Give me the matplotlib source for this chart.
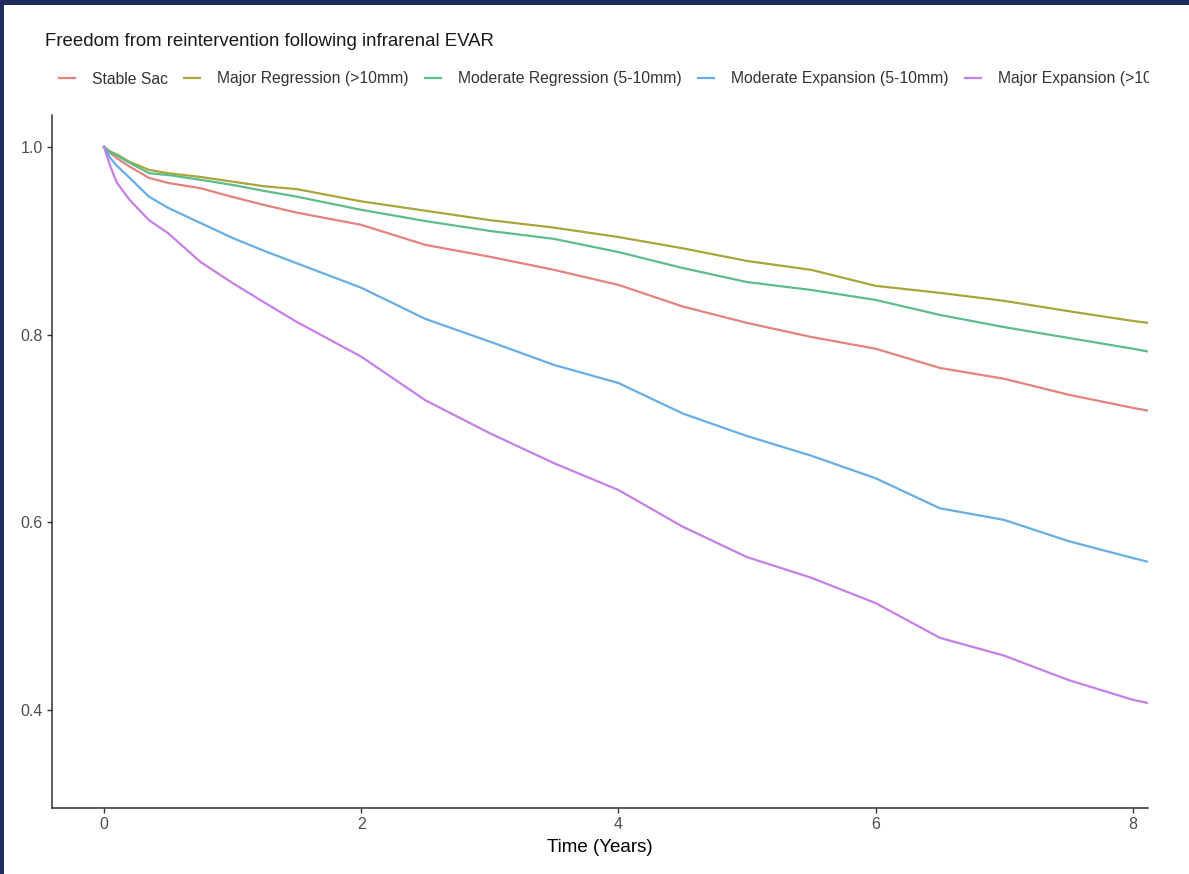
import matplotlib
matplotlib.use("Agg")
import matplotlib.pyplot as plt
from matplotlib.patches import Rectangle

plt.rcParams["font.family"] = ["Liberation Sans", "DejaVu Sans"]

# Kaplan-Meier estimates
TIME = [0, 0.05, 0.1, 0.2, 0.35, 0.5, 0.75, 1.0, 1.25, 1.5, 2.0, 2.5, 3.0, 3.5,
        4.0, 4.5, 5.0, 5.5, 6.0, 6.5, 7.0, 7.5, 8.0, 8.12]

STABLE_SAC = [1.0, 0.9935, 0.988, 0.979, 0.967, 0.9616, 0.956, 0.9467, 0.938, 0.930,
              0.917, 0.8956, 0.883, 0.869, 0.853, 0.830, 0.8125, 0.7975, 0.785,
              0.7645, 0.753, 0.736, 0.722, 0.719]
MAJOR_REGRESSION = [1.0, 0.995, 0.992, 0.984, 0.9755, 0.972, 0.968, 0.963, 0.958, 0.955,
                    0.942, 0.932, 0.922, 0.914, 0.904, 0.892, 0.8785, 0.869, 0.852,
                    0.8445, 0.836, 0.825, 0.8146, 0.8125]
MODERATE_REGRESSION = [1.0, 0.994, 0.991, 0.983, 0.972, 0.970, 0.965, 0.9595, 0.953, 0.947,
                       0.933, 0.921, 0.9105, 0.902, 0.888, 0.871, 0.856, 0.8476, 0.837,
                       0.821, 0.808, 0.7965, 0.785, 0.782]
MODERATE_EXPANSION = [1.0, 0.988, 0.98, 0.967, 0.947, 0.935, 0.919, 0.903, 0.889, 0.876,
                      0.850, 0.8167, 0.7926, 0.7677, 0.7485, 0.716, 0.692, 0.671, 0.647,
                      0.615, 0.6026, 0.58, 0.562, 0.558]
MAJOR_EXPANSION = [1.0, 0.979, 0.962, 0.9435, 0.922, 0.908, 0.8775, 0.855, 0.834, 0.8135,
                   0.7766, 0.730, 0.695, 0.663, 0.6345, 0.5954, 0.563, 0.541, 0.514,
                   0.477, 0.458, 0.432, 0.411, 0.4075]

LABELS = ["Stable Sac", "Major Regression (>10mm)", "Moderate Regression (5-10mm)",
          "Moderate Expansion (5-10mm)", "Major Expansion (>10mm)"]
SERIES = [STABLE_SAC, MAJOR_REGRESSION, MODERATE_REGRESSION, MODERATE_EXPANSION, MAJOR_EXPANSION]
COLORS = ["#E4837C", "#A8A63A", "#5DBB8C", "#66AEE4", "#C77FE8"]

X_TICKS = [0, 2, 4, 6, 8]
Y_TICKS = [0.4, 0.6, 0.8, 1.0]

W, H = 1189, 874
fig = plt.figure(figsize=(W / 100, H / 100), dpi=100)
ax = fig.add_axes([52 / W, 1 - 808 / H, (1148 - 52) / W, (808 - 115) / H])

for vals, lab, col in zip(SERIES, LABELS, COLORS):
    ax.plot(TIME, vals, color=col, lw=1.6, label=lab)

ax.set_xlim(-0.404, 8.118)
ax.set_ylim(0.2957, 1.034)
ax.set_xticks(X_TICKS)
ax.set_xticklabels([str(t) for t in X_TICKS])
ax.set_yticks(Y_TICKS)
ax.set_yticklabels([f"{v:.1f}" for v in Y_TICKS])
for side in ["top", "right"]:
    ax.spines[side].set_visible(False)
for side in ["left", "bottom"]:
    ax.spines[side].set_color("#333333")
    ax.spines[side].set_linewidth(1.1)
ax.tick_params(length=3.5, width=1.0, color="#333333", labelcolor="#4D4D4D",
               labelsize=11.5, pad=3)
ax.set_xlabel("Time (Years)", fontsize=13.5, color="black", labelpad=5)

fig.text(45 / W, 1 - 42 / H, "Freedom from reintervention following infrarenal EVAR",
         fontsize=13.4, color="#1a1a1a", va="center", ha="left")

leg = fig.legend(*ax.get_legend_handles_labels(), loc="center left", ncol=5,
                 bbox_to_anchor=(59 / W, 1 - 79 / H), frameon=False, fontsize=11.3,
                 handlelength=1.0, handletextpad=1.1, columnspacing=1.05,
                 borderpad=0, borderaxespad=0)
for t in leg.get_texts():
    t.set_color("#333333")

# white area to the right where the legend gets cut off in the screenshot
fig.patches.append(Rectangle((1149 / W, 0), 1 - 1149 / W, 1, transform=fig.transFigure,
                             facecolor="white", edgecolor="none", zorder=20))
# navy screenshot frame at top and left
fig.patches.append(Rectangle((0, 1 - 5 / H), 1, 5 / H, transform=fig.transFigure,
                             facecolor="#1F2A5E", edgecolor="none", zorder=21))
fig.patches.append(Rectangle((0, 0), 4 / W, 1, transform=fig.transFigure,
                             facecolor="#1F2A5E", edgecolor="none", zorder=21))

fig.savefig("out.png", dpi=100, facecolor="white")
